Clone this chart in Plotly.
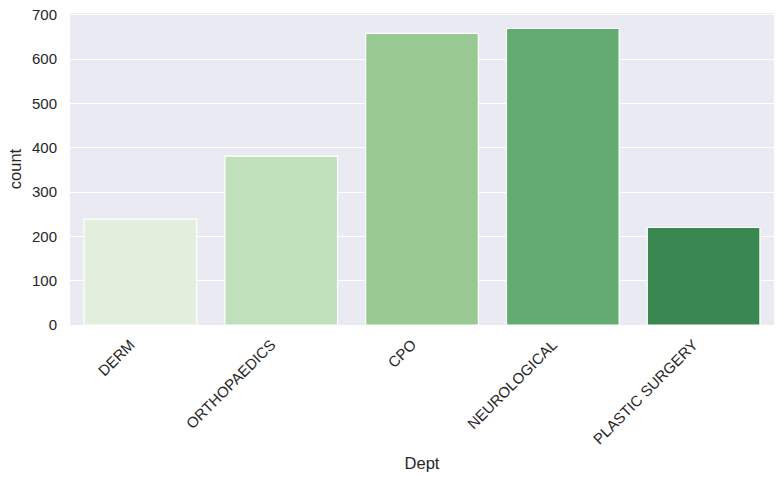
import plotly.graph_objects as go

depts = ["DERM", "ORTHOPAEDICS", "CPO", "NEUROLOGICAL", "PLASTIC SURGERY"]
counts = [239, 381, 658, 669, 220]
colors = ["#e2efdd", "#c0dfbb", "#98c993", "#64ab71", "#3a8752"]
y_ticks = [0, 100, 200, 300, 400, 500, 600, 700]

font_family = "Liberation Sans, Arial, sans-serif"
text_color = "#262626"

fig = go.Figure(
    go.Bar(
        x=depts,
        y=counts,
        marker=dict(color=colors, line=dict(color="white", width=1.2)),
        width=0.8,
    )
)

fig.update_layout(
    width=784,
    height=480,
    margin=dict(l=70, r=10, t=13.3, b=154.5, autoexpand=False),
    paper_bgcolor="white",
    plot_bgcolor="#eaeaf2",
    font=dict(family=font_family, color=text_color, size=15),
    showlegend=False,
    bargap=0.2,
)

fig.update_xaxes(
    type="category",
    range=[-0.5, 4.5],
    tickangle=-45,
    tickfont=dict(size=15, color=text_color),
    showgrid=False,
    zeroline=False,
    showline=False,
    ticks="",
    automargin=False,
    ticklabelstandoff=7,
    ticklabelshift=-10,
    title=dict(text="Dept", font=dict(size=16.5, color=text_color), standoff=11),
)

fig.update_yaxes(
    range=[0, 704],
    tickvals=y_ticks,
    tickfont=dict(size=15, color=text_color),
    showgrid=True,
    gridcolor="white",
    gridwidth=1.2,
    zeroline=False,
    showline=False,
    ticks="",
    automargin=False,
    ticklabeloverflow="allow",
    ticklabelstandoff=12,
    title=dict(text="count", font=dict(size=16.5, color=text_color), standoff=6),
)

fig.write_html(
    "out.html",
    config={"displayModeBar": False},
    post_script="document.body.style.margin='0';",
)
